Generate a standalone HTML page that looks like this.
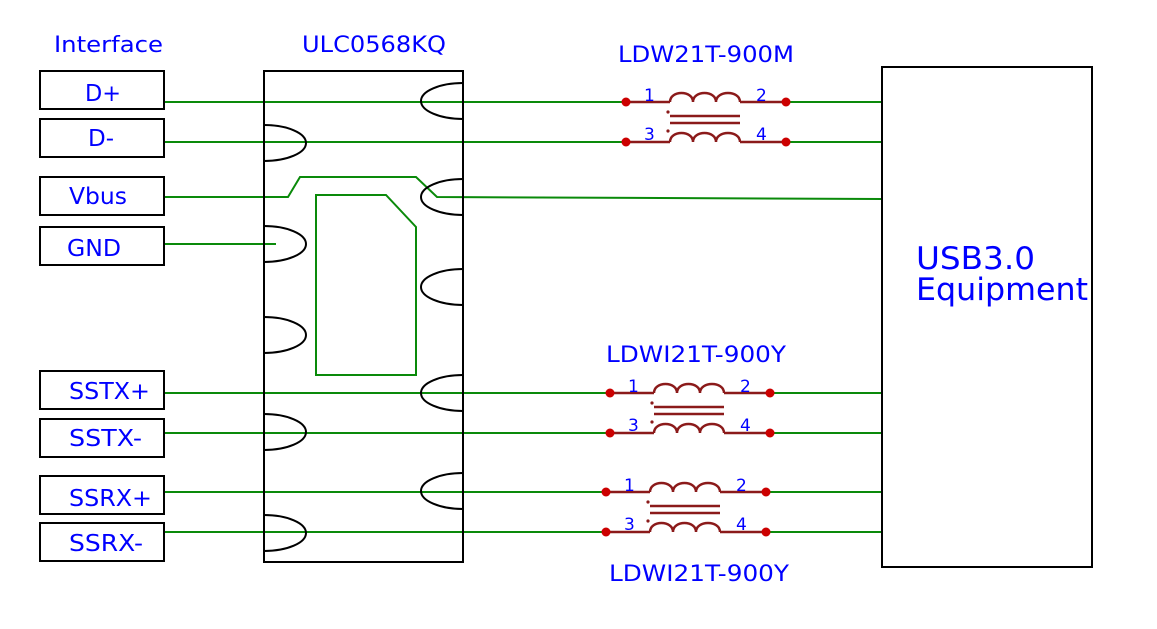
<!DOCTYPE html>
<html><head><meta charset="utf-8"><style>
body{margin:0;background:#fff;}
svg text{font-family:"DejaVu Sans","Liberation Sans",sans-serif;fill:#0000ff;}
</style></head><body>
<svg width="1157" height="624" viewBox="0 0 1157 624" xmlns="http://www.w3.org/2000/svg">
<defs>
<g id="ind">
 <line x1="0" y1="0" x2="44" y2="0" stroke="#8b1a1a" stroke-width="2.5"/>
 <path d="M44 0 C44 -12 67 -12 67 0 C67 -12 90 -12 90 0 C90 -12 114 -12 114 0" fill="none" stroke="#8b1a1a" stroke-width="2.5"/>
 <line x1="114" y1="0" x2="160" y2="0" stroke="#8b1a1a" stroke-width="2.5"/>
 <line x1="0" y1="40" x2="44" y2="40" stroke="#8b1a1a" stroke-width="2.5"/>
 <path d="M44 40 C44 28 67 28 67 40 C67 28 90 28 90 40 C90 28 114 28 114 40" fill="none" stroke="#8b1a1a" stroke-width="2.5"/>
 <line x1="114" y1="40" x2="160" y2="40" stroke="#8b1a1a" stroke-width="2.5"/>
 <line x1="44" y1="14" x2="114" y2="14" stroke="#8b1a1a" stroke-width="2.5"/>
 <line x1="44" y1="21" x2="114" y2="21" stroke="#8b1a1a" stroke-width="2.5"/>
 <circle cx="42" cy="10" r="1.6" fill="#8b1a1a"/>
 <circle cx="42" cy="29" r="1.6" fill="#8b1a1a"/>
 <circle cx="0" cy="0" r="4.5" fill="#cc0000"/>
 <circle cx="160" cy="0" r="4.5" fill="#cc0000"/>
 <circle cx="0" cy="40" r="4.5" fill="#cc0000"/>
 <circle cx="160" cy="40" r="4.5" fill="#cc0000"/>
 <text x="18" y="-1" font-size="17">1</text>
 <text x="130" y="-1" font-size="17">2</text>
 <text x="18" y="38" font-size="17">3</text>
 <text x="130" y="38" font-size="17">4</text>
</g>
</defs>

<g stroke="#0a8a0a" stroke-width="2" fill="none">
 <line x1="164" y1="102" x2="626" y2="102"/><line x1="786" y1="102" x2="882" y2="102"/>
 <line x1="164" y1="142" x2="626" y2="142"/><line x1="786" y1="142" x2="882" y2="142"/>
 <polyline points="164,197 288,197 300,177 416,177 437,197 882,199"/>
 <line x1="164" y1="244" x2="276" y2="244"/>
 <polygon points="316,195 386,195 416,227 416,375 316,375"/>
 <line x1="164" y1="393" x2="608" y2="393"/><line x1="770" y1="393" x2="882" y2="393"/>
 <line x1="164" y1="433" x2="608" y2="433"/><line x1="770" y1="433" x2="882" y2="433"/>
 <line x1="164" y1="492" x2="605" y2="492"/><line x1="767" y1="492" x2="882" y2="492"/>
 <line x1="164" y1="532" x2="605" y2="532"/><line x1="767" y1="532" x2="882" y2="532"/>
</g>

<g fill="none" stroke="#000" stroke-width="2">
 <rect x="40" y="71" width="124" height="38"/>
 <rect x="40" y="119" width="124" height="38"/>
 <rect x="40" y="177" width="124" height="38"/>
 <rect x="40" y="227" width="124" height="38"/>
 <rect x="40" y="371" width="124" height="38"/>
 <rect x="40" y="419" width="124" height="38"/>
 <rect x="40" y="476" width="124" height="38"/>
 <rect x="40" y="523" width="124" height="38"/>
 <rect x="264" y="71" width="199" height="491"/>
 <rect x="882" y="67" width="210" height="500"/>
</g>
<g fill="none" stroke="#000" stroke-width="2">
 <path d="M264 125 A42 18 0 0 1 264 161"/>
 <path d="M264 226 A42 18 0 0 1 264 262"/>
 <path d="M264 317 A42 18 0 0 1 264 353"/>
 <path d="M264 414 A42 18 0 0 1 264 450"/>
 <path d="M264 515 A42 18 0 0 1 264 551"/>
 <path d="M463 83 A42 18 0 0 0 463 119"/>
 <path d="M463 179 A42 18 0 0 0 463 215"/>
 <path d="M463 269 A42 18 0 0 0 463 305"/>
 <path d="M463 375 A42 18 0 0 0 463 411"/>
 <path d="M463 473 A42 18 0 0 0 463 509"/>
</g>

<use href="#ind" x="626" y="102"/>
<use href="#ind" x="610" y="393"/>
<use href="#ind" x="606" y="492"/>

<g font-size="23">
 <text x="85" y="101" textLength="36" lengthAdjust="spacingAndGlyphs">D+</text>
 <text x="88" y="146" textLength="26" lengthAdjust="spacingAndGlyphs">D-</text>
 <text x="69" y="204" textLength="58" lengthAdjust="spacingAndGlyphs">Vbus</text>
 <text x="67" y="256" textLength="54" lengthAdjust="spacingAndGlyphs">GND</text>
 <text x="69" y="399" textLength="81" lengthAdjust="spacingAndGlyphs">SSTX+</text>
 <text x="69" y="446" textLength="73" lengthAdjust="spacingAndGlyphs">SSTX-</text>
 <text x="69" y="506" textLength="83" lengthAdjust="spacingAndGlyphs">SSRX+</text>
 <text x="69" y="551" textLength="74" lengthAdjust="spacingAndGlyphs">SSRX-</text>
</g>
<g font-size="22">
 <text x="54" y="52" textLength="109" lengthAdjust="spacingAndGlyphs">Interface</text>
 <text x="302" y="52" textLength="144" lengthAdjust="spacingAndGlyphs">ULC0568KQ</text>
 <text x="618" y="62" textLength="176" lengthAdjust="spacingAndGlyphs">LDW21T-900M</text>
 <text x="606" y="362" textLength="180" lengthAdjust="spacingAndGlyphs">LDWI21T-900Y</text>
 <text x="609" y="581" textLength="180" lengthAdjust="spacingAndGlyphs">LDWI21T-900Y</text>
</g>
<text x="916" y="269" font-size="31" textLength="119" lengthAdjust="spacingAndGlyphs">USB3.0</text>
<text x="916" y="300" font-size="31" textLength="172" lengthAdjust="spacingAndGlyphs">Equipment</text>
</svg>
</body></html>
